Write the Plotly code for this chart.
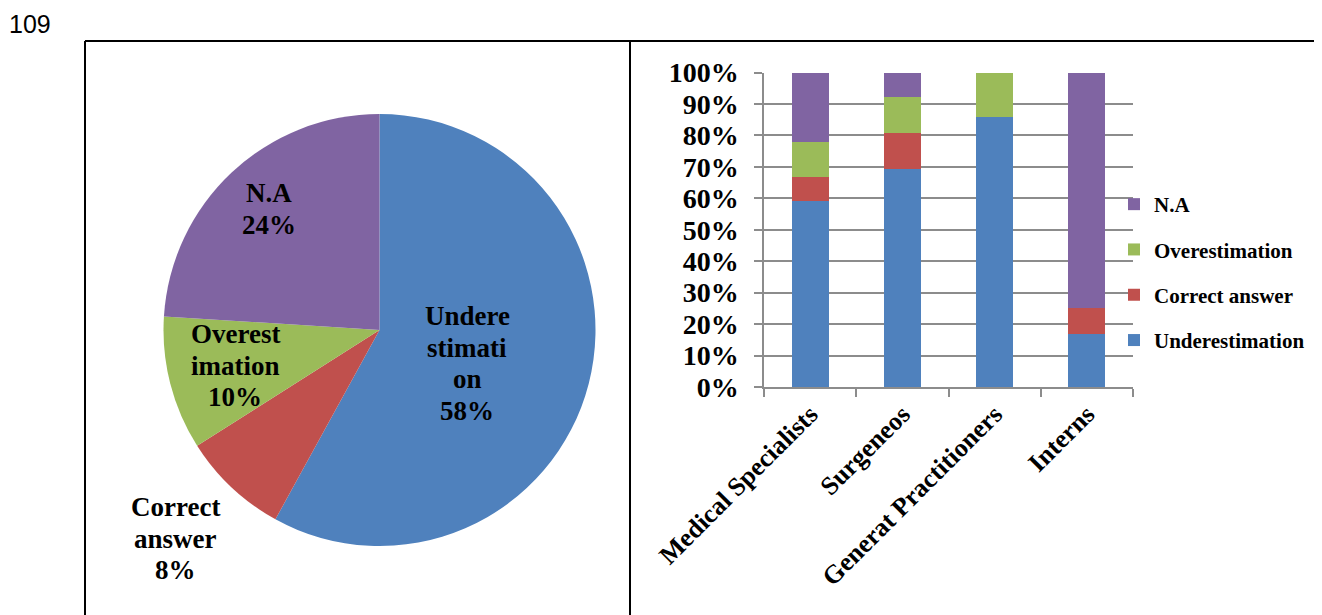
import plotly.graph_objects as go

W, H = 1314, 607
OFF = 8  # page body margin in which the figure is placed

# ---------------- data ----------------
pie_labels = ["Underestimation", "Correct answer", "Overestimation", "N.A"]
pie_values = [58, 8, 10, 24]
pie_label_lines = [["Undere", "stimati", "on"], ["Correct", "answer"], ["Overest", "imation"], ["N.A"]]

groups = ["Medical Specialists", "Surgeneos", "Generat Practitioners", "Interns"]
under_vals = [0.593, 0.692, 0.857, 0.167]
correct_vals = [0.074, 0.115, 0.0, 0.083]
over_vals = [0.111, 0.115, 0.143, 0.0]
na_vals = [0.222, 0.078, 0.0, 0.750]

series_names = ["Underestimation", "Correct answer", "Overestimation", "N.A"]
series_vals = [under_vals, correct_vals, over_vals, na_vals]
legend_ranks = [4, 3, 2, 1]
colors = ["#4F81BD", "#C0504D", "#9BBB59", "#8064A2"]

page_number = "109"

SERIF = "Liberation Serif"


def px(x):
    return (x - OFF) / W


def py(y):
    return 1 - (y - OFF) / H


fig = go.Figure()

# ---------------- pie ----------------
fig.add_trace(go.Pie(
    labels=pie_labels,
    values=pie_values,
    marker=dict(colors=colors, line=dict(width=0)),
    sort=False,
    direction="clockwise",
    rotation=0,
    textinfo="none",
    hoverinfo="label+percent",
    showlegend=False,
    domain=dict(x=[px(163), px(596)], y=[py(546), py(114)]),
))

# pie label positions (pixels: centre x, y of first line)
pie_label_pos = [(467, 316), (175, 507), (235, 334), (269, 193)]
LINE_H = 31.5
for lines, val, (lx, ly) in zip(pie_label_lines, pie_values, pie_label_pos):
    for i, t in enumerate(lines + [f"{val}%"]):
        fig.add_annotation(
            x=px(lx), y=py(ly + i * LINE_H), xref="paper", yref="paper",
            text=t, showarrow=False,
            font=dict(family=SERIF, size=27, color="black", weight="bold"),
            xanchor="center", yanchor="middle",
        )

# ---------------- stacked bars ----------------
for name, vals, col, rk in zip(series_names, series_vals, colors, legend_ranks):
    fig.add_trace(go.Bar(
        x=groups, y=vals, name=name,
        marker=dict(color=col, line=dict(width=0)),
        legendgroup=name, legendrank=rk,
        xaxis="x", yaxis="y",
    ))

fig.update_layout(
    width=W, height=H,
    margin=dict(l=0, r=0, t=0, b=0, autoexpand=False),
    paper_bgcolor="white",
    plot_bgcolor="white",
    barmode="stack",
    bargap=0.6,
    xaxis=dict(
        domain=[px(764), px(1133)],
        anchor="y",
        automargin=False,
        showline=True, linecolor="#8c8c8c", linewidth=1.5,
        ticks="outside", tickson="boundaries", ticklen=8, tickcolor="#8c8c8c", tickwidth=1.5,
        tickangle=-45,
        tickfont=dict(family=SERIF, size=26, color="black", weight="bold"),
        showgrid=False,
    ),
    yaxis=dict(
        domain=[py(387), py(72.5)],
        anchor="x",
        automargin=False,
        range=[0, 1],
        dtick=0.1,
        tickformat=".0%",
        showline=True, linecolor="#8c8c8c", linewidth=1.5,
        ticks="outside", ticklen=8, tickcolor="#8c8c8c", tickwidth=1.5,
        ticklabelstandoff=10,
        showgrid=True, gridcolor="#8c8c8c", gridwidth=1.5,
        tickfont=dict(family=SERIF, size=28, color="black", weight="bold"),
        zeroline=False,
    ),
    legend=dict(
        x=px(1114), y=py(184), xanchor="left", yanchor="top",
        traceorder="grouped",
        tracegroupgap=15,
        itemwidth=30,
        font=dict(family=SERIF, size=21, color="black", weight="bold"),
        bgcolor="rgba(0,0,0,0)",
    ),
    showlegend=True,
)

# page number
fig.add_annotation(
    x=px(7), y=py(23.5), xref="paper", yref="paper",
    text=page_number, showarrow=False, xanchor="left", yanchor="middle",
    font=dict(family="Liberation Sans", size=25, color="black"),
)

# frame lines
frame = dict(color="black", width=2)
fig.add_shape(type="line", xref="paper", yref="paper",
              x0=px(85), x1=1.02, y0=py(41), y1=py(41), line=frame)
fig.add_shape(type="line", xref="paper", yref="paper",
              x0=px(85), x1=px(85), y0=py(41), y1=-0.03, line=frame)
fig.add_shape(type="line", xref="paper", yref="paper",
              x0=px(630), x1=px(630), y0=py(41), y1=-0.03, line=frame)

fig.write_html("out.html")
